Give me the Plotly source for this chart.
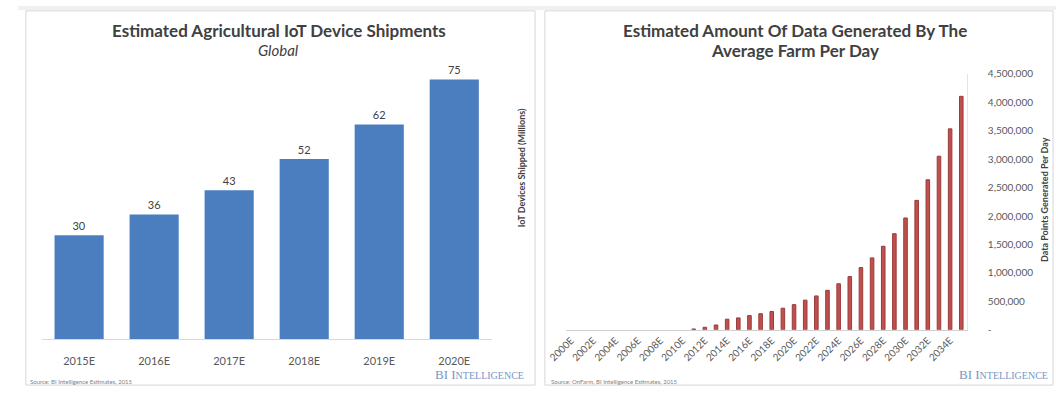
import plotly.graph_objects as go

# ---------------- data ----------------
iot_years = ["2015E", "2016E", "2017E", "2018E", "2019E", "2020E"]
iot_shipments = [30, 36, 43, 52, 62, 75]

farm_years = [f"{y}E" for y in range(2000, 2036)]
farm_data_points = [
    0, 0, 0, 0, 0, 0, 0, 0, 0, 0, 0,          # 2000-2010
    15000, 45000, 85000, 187000, 210000,      # 2011-2015
    250000, 284000, 323000, 380000, 443000,   # 2016-2020
    522000, 596000, 694000, 810000, 936000,   # 2021-2025
    1094000, 1265000, 1469000, 1690000, 1966000,  # 2026-2030
    2276000, 2638000, 3052000, 3533000, 4105000,  # 2031-2035
]
farm_tick_labels = [f"{y}E" for y in range(2000, 2036, 2)]
farm_y_ticks = [0, 500000, 1000000, 1500000, 2000000, 2500000,
                3000000, 3500000, 4000000, 4500000]
farm_y_tick_text = ["-"] + [f"{v:,}" for v in farm_y_ticks[1:]]

W, H = 1056, 394
def px(x):
    return x / W
def py(y):
    return 1 - y / H

FONT = "Lato"
DARK = "#404040"
GREY = "#595959"

fig = go.Figure()
fig.add_trace(go.Bar(
    x=iot_years, y=iot_shipments, xaxis="x", yaxis="y",
    marker=dict(color="#4A7EBF", line=dict(width=0)),
    text=[str(v) for v in iot_shipments], textposition="outside",
    textfont=dict(family=FONT, size=11, color=DARK),
    cliponaxis=False, showlegend=False, hoverinfo="x+y",
))
fig.add_trace(go.Bar(
    x=farm_years, y=farm_data_points, xaxis="x2", yaxis="y2",
    marker=dict(color="#C0504D",
                line=dict(width=[0 if v == 0 else 1 for v in farm_data_points],
                          color="#9A3B3A")),
    width=0.32, showlegend=False, hoverinfo="x+y",
))

fig.update_layout(
    width=W, height=H,
    margin=dict(l=0, r=0, t=0, b=0),
    paper_bgcolor="white", plot_bgcolor="white",
    font=dict(family=FONT, color=DARK),
    bargap=0.345,
    xaxis=dict(domain=[px(24), px(482)], anchor="y", type="category",
               showgrid=False, zeroline=False, showline=True,
               linecolor="#D9D9D9", linewidth=1, ticks="", ticklabelstandoff=12,
               tickfont=dict(family=FONT, size=11, color=GREY), fixedrange=True),
    yaxis=dict(domain=[py(343.5), py(57.9)], anchor="x", range=[0, 80],
               showgrid=False, zeroline=False, showticklabels=False,
               showline=False, fixedrange=True),
    xaxis2=dict(domain=[px(557), px(965.3)], anchor="y2", type="category",
                showgrid=False, zeroline=False, showline=True,
                linecolor="#D0D0D0", linewidth=1, ticks="", tickangle=-45,
                tickmode="array", tickvals=farm_tick_labels, ticktext=farm_tick_labels,
                tickfont=dict(family=FONT, size=10, color=GREY), fixedrange=True),
    yaxis2=dict(domain=[py(334), py(70)], anchor="x2", side="right",
                range=[0, 4500000], showgrid=False, zeroline=False,
                showline=True, linecolor="#E4E4E4", linewidth=1,
                tickmode="array", tickvals=farm_y_ticks, ticktext=farm_y_tick_text,
                ticks="", ticklabelstandoff=18,
                tickfont=dict(family=FONT, size=10, color=GREY), fixedrange=True),
)

annotations = [
    dict(text="<b>Estimated Agricultural IoT Device Shipments</b>",
         x=px(266), y=py(25), font=dict(size=17, color=DARK)),
    dict(text="<i>Global</i>", x=px(265), y=py(45), font=dict(size=15, color=DARK)),
    dict(text="<b>IoT Devices Shipped (Millions)</b>", textangle=-90,
         x=px(513), y=py(167), font=dict(size=9, color=DARK)),
    dict(text="<b>Estimated Amount Of Data Generated By The</b>",
         x=px(790), y=py(25), font=dict(size=17, color=DARK)),
    dict(text="<b>Average Farm Per Day</b>", x=px(790), y=py(46),
         font=dict(size=17, color=DARK)),
    dict(text="<b>Data Points Generated Per Day</b>", textangle=-90,
         x=px(1045), y=py(200), font=dict(size=9, color=DARK)),
    dict(text="Source: BI Intelligence Estimates, 2015", x=px(10), y=py(387),
         xanchor="left", font=dict(size=6, color="#7F7F7F")),
    dict(text="Source: OnFarm, BI Intelligence Estimates, 2015", x=px(540), y=py(387),
         xanchor="left", font=dict(size=6, color="#7F7F7F")),
    dict(text="BI I<span style='font-size:10px'>NTELLIGENCE</span>",
         x=px(517), y=py(380), xanchor="right",
         font=dict(family="Liberation Serif", size=13, color="#7896C4")),
    dict(text="BI I<span style='font-size:10px'>NTELLIGENCE</span>",
         x=px(1050), y=py(380), xanchor="right",
         font=dict(family="Liberation Serif", size=13, color="#7896C4")),
]
for a in annotations:
    a.setdefault("xref", "paper"); a.setdefault("yref", "paper")
    a.setdefault("showarrow", False)
    a.setdefault("xanchor", "center"); a.setdefault("yanchor", "middle")
    a["font"].setdefault("family", FONT)

shapes = [
    dict(type="rect", x0=0, x1=1, y0=py(4), y1=1,
         fillcolor="#F0F0F0", line=dict(width=0)),
    dict(type="rect", x0=px(8), x1=px(526), y0=py(391), y1=py(5),
         line=dict(color="#D6D6D6", width=1)),
    dict(type="rect", x0=px(536), x1=px(1053), y0=py(391), y1=py(5),
         line=dict(color="#D6D6D6", width=1)),
]
for s in shapes:
    s["xref"] = "paper"; s["yref"] = "paper"; s["layer"] = "below"
fig.update_layout(shapes=shapes, annotations=annotations)

fig.write_html("out.html")
